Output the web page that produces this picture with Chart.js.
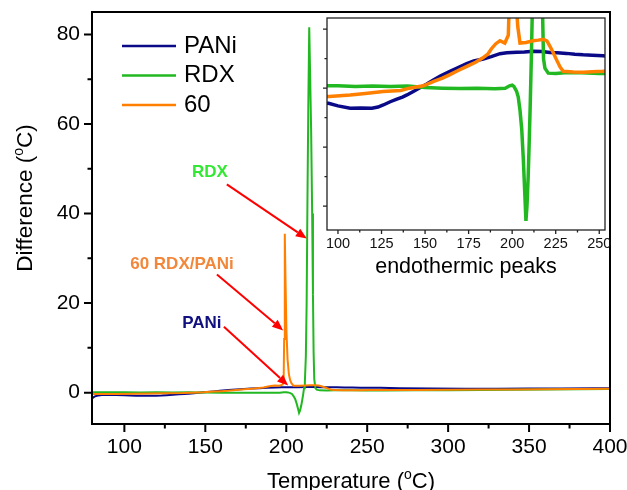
<!DOCTYPE html>
<html lang="en">
<head>
<meta charset="UTF-8">
<title>DSC curves: PANi, RDX and 60 RDX/PANi</title>
<script src="https://cdn.jsdelivr.net/npm/chart.js"></script>
<style>
  body { margin: 0; background: #fff; }
  #wrap { position: relative; width: 627px; height: 490px; }
  #mainChart { position: absolute; left: 0; top: 0; }
  #insetBox { position: absolute; left: 297px; top: 8px; width: 318px; height: 272px; }
</style>
</head>
<body>
<div id="wrap">
  <canvas id="mainChart" width="627" height="490"></canvas>
  <div id="insetBox"><canvas id="insetChart" width="318" height="272"></canvas></div>
</div>

<script>
  // temperature (°C) / difference (°C) for each sample
  const panT = [80, 81.5, 83, 86, 90, 94.6, 100, 107, 113, 119.5, 123, 126, 130, 133.8, 137, 139.6, 143, 147.3, 151, 154.8,
    159, 164.3, 169, 173.9, 178, 183.4, 188, 193, 197, 202.6, 207, 212.2, 217, 221.7, 226, 231.2, 236, 240.8, 246, 252.2,
    258, 270, 290, 310, 330, 350, 370, 390, 400]
  const panV = [-1.3, -0.9, -0.7, -0.55, -0.5, -0.51, -0.6, -0.68, -0.67, -0.68, -0.64, -0.57, -0.46, -0.37, -0.3, -0.23, -0.12, 0.02, 0.14, 0.28,
    0.42, 0.57, 0.7, 0.83, 0.92, 0.99, 1.07, 1.17, 1.2, 1.22, 1.23, 1.25, 1.24, 1.21, 1.2, 1.18, 1.15, 1.13, 1.12, 1.1,
    1.07, 1.0, 0.9, 0.85, 0.86, 0.9, 0.93, 0.97, 1.0]

  const rdxT = [80, 90, 100, 110, 120, 130, 140, 145, 150, 160, 170, 180, 190, 196, 198.5, 200, 201, 202.5, 203.5, 204.5,
    205.5, 206.4, 207.2, 207.9, 208.5, 209.2, 209.8, 210.4, 211, 211.5, 212.1, 212.6, 213.1, 213.6, 214.2, 214.8, 215.4, 216, 216.5, 216.9,
    217.3, 218, 218.8, 220.7, 225, 230, 240, 250, 260, 280, 300, 320, 340, 360, 380, 400]
  const rdxV = [0.1, 0.08, 0.08, 0.06, 0.07, 0.06, 0.07, 0.05, 0.02, 0.0, -0.01, 0.0, -0.02, 0.0, 0.08, 0.1, 0.06, -0.1, -0.3, -0.75,
    -1.4, -2.4, -3.5, -4.5, -4.0, -3.0, -1.8, -0.5, 1.0, 2.4, 8, 20, 43, 63, 81.6, 70, 58, 40, 22, 9,
    3.0, 1.0, 0.68, 0.51, 0.5, 0.52, 0.52, 0.5, 0.5, 0.52, 0.55, 0.62, 0.66, 0.7, 0.74, 0.8]

  const mixT = [80, 85, 95, 107, 117, 126, 136, 141, 149, 155, 160, 164, 169, 174, 179, 183, 186, 188, 190.5, 193,
    195.8, 197.8, 198.4, 198.7, 199.1, 199.5, 200.1, 200.8, 201.6, 202.4, 203.2, 204.5, 208, 212, 215, 218, 220, 221.7, 223.6, 225.5,
    227.5, 229.3, 235, 241, 246, 252, 260, 280, 300, 320, 340, 360, 380, 400]
  const mixV = [-0.3, -0.3, -0.28, -0.23, -0.17, -0.11, -0.08, 0.0, 0.08, 0.23, 0.34, 0.45, 0.6, 0.74, 0.88, 1.02, 1.15, 1.33, 1.5, 1.61,
    1.53, 1.8, 3, 12, 35.5, 26, 14, 7.5, 4.2, 2.8, 2.1, 1.53, 1.55, 1.61, 1.63, 1.66, 1.6, 1.42, 1.2, 0.96,
    0.72, 0.57, 0.55, 0.54, 0.56, 0.57, 0.6, 0.62, 0.65, 0.7, 0.72, 0.76, 0.8, 0.85]

  const seriesNames = ['PANi', 'RDX', '60']

  // axis ticks
  const xMajor = [100, 150, 200, 250, 300, 350, 400]
  const xMinor = [125, 175, 225, 275, 325, 375]
  const yMajor = [0, 20, 40, 60, 80]
  const yMinor = [10, 30, 50, 70]
  const insetXMajor = [100, 125, 150, 175, 200, 225, 250]
  const insetXMinor = [112.5, 137.5, 162.5, 187.5, 212.5, 237.5]
  const insetYMajor = [2, 0, -2, -4]
  const insetYMinor = [1, -1, -3]

  const FONT = '"Liberation Sans", Arial, Helvetica, sans-serif'
  const colors = ['#0a0a88', '#22b822', '#ff8000']

  // callouts: text, text colour, text centre, arrow from -> to (data units)
  const notes = [
    { text: 'RDX', color: '#33e833', at: [152.8, 49.2], from: [163.3, 46.5], to: [212.7, 34.4] },
    { text: '60 RDX/PANi', color: '#f2873a', at: [135.6, 28.6], from: [157.2, 26.4], to: [198.1, 13.9] },
    { text: 'PANi', color: '#101080', at: [147.9, 15.4], from: [161.5, 14.7], to: [201.2, 1.6] }
  ]

  function points(xs, ys) {
    return xs.map((x, i) => ({ x: x, y: ys[i] }))
  }

  function makeDatasets(width) {
    const sets = [[panT, panV], [rdxT, rdxV], [mixT, mixV]]
    return sets.map((s, i) => ({
      label: seriesNames[i],
      data: points(s[0], s[1]),
      borderColor: colors[i],
      borderWidth: width,
      showLine: true,
      pointRadius: 0,
      order: 3 - i,
      clip: 0
    }))
  }

  // fixed axis boxes, no extra room for label overhang
  function fixSize(prop, size) {
    return s => {
      s[prop] = size
      s.paddingLeft = 0
      s.paddingRight = 0
      s.paddingTop = 0
      s.paddingBottom = 0
    }
  }

  function drawTicks(ctx, scale, values, len, horizontal, edge) {
    values.forEach(v => {
      const p = scale.getPixelForValue(v)
      if (horizontal) { ctx.moveTo(p, edge); ctx.lineTo(p, edge + len) }
      else { ctx.moveTo(edge, p); ctx.lineTo(edge - len, p) }
    })
  }

  // axis title with a raised "o" for degrees
  function degTitle(ctx, cx, cy, pre, post, size, angle) {
    ctx.save()
    ctx.translate(cx, cy)
    ctx.rotate(angle)
    const big = size + 'px ' + FONT
    const small = Math.round(size * 0.62) + 'px ' + FONT
    ctx.font = big
    const w1 = ctx.measureText(pre).width
    const w3 = ctx.measureText(post).width
    ctx.font = small
    const w2 = ctx.measureText('o').width
    const x0 = -(w1 + w2 + w3) / 2
    ctx.fillStyle = '#000'
    ctx.textAlign = 'left'
    ctx.textBaseline = 'alphabetic'
    ctx.font = big
    ctx.fillText(pre, x0, 0)
    ctx.font = small
    ctx.fillText('o', x0 + w1, -size * 0.4)
    ctx.font = big
    ctx.fillText(post, x0 + w1 + w2, 0)
    ctx.restore()
  }

  function arrow(ctx, x1, y1, x2, y2) {
    const ang = Math.atan2(y2 - y1, x2 - x1)
    const head = 11, half = 4.5
    const bx = x2 - head * Math.cos(ang), by = y2 - head * Math.sin(ang)
    ctx.beginPath()
    ctx.moveTo(x1, y1)
    ctx.lineTo(bx, by)
    ctx.stroke()
    ctx.beginPath()
    ctx.moveTo(x2, y2)
    ctx.lineTo(bx + half * Math.sin(ang), by - half * Math.cos(ang))
    ctx.lineTo(bx - half * Math.sin(ang), by + half * Math.cos(ang))
    ctx.closePath()
    ctx.fill()
  }

  const mainDecor = {
    id: 'mainDecor',
    afterDraw(chart) {
      const { ctx, chartArea: a, scales: { x, y } } = chart
      ctx.save()
      ctx.strokeStyle = '#000'
      ctx.lineWidth = 2
      ctx.strokeRect(a.left, a.top, a.right - a.left, a.bottom - a.top)

      ctx.beginPath()
      drawTicks(ctx, x, xMajor, 8, true, a.bottom)
      drawTicks(ctx, x, xMinor, 4.5, true, a.bottom)
      drawTicks(ctx, y, yMajor, 8, false, a.left)
      drawTicks(ctx, y, yMinor, 4.5, false, a.left)
      ctx.stroke()

      degTitle(ctx, (a.left + a.right) / 2, 488, 'Temperature (', 'C)', 22, 0)
      degTitle(ctx, 31.5, 198, 'Difference (', 'C)', 22.5, -Math.PI / 2)

      // legend
      ctx.lineWidth = 2.5
      ctx.font = '24px ' + FONT
      ctx.textAlign = 'left'
      ctx.textBaseline = 'middle'
      seriesNames.forEach((name, i) => {
        const ly = 46 + i * 29.5
        ctx.strokeStyle = colors[i]
        ctx.beginPath()
        ctx.moveTo(122, ly)
        ctx.lineTo(176, ly)
        ctx.stroke()
        ctx.fillStyle = '#000'
        ctx.fillText(name, 184, ly)
      })

      // callouts
      ctx.font = 'bold 17px ' + FONT
      ctx.textAlign = 'center'
      notes.forEach(n => {
        ctx.fillStyle = n.color
        ctx.fillText(n.text, x.getPixelForValue(n.at[0]), y.getPixelForValue(n.at[1]))
        ctx.strokeStyle = '#ff0000'
        ctx.fillStyle = '#ff0000'
        ctx.lineWidth = 2
        arrow(ctx, x.getPixelForValue(n.from[0]), y.getPixelForValue(n.from[1]),
          x.getPixelForValue(n.to[0]), y.getPixelForValue(n.to[1]))
      })
      ctx.restore()
    }
  }

  const insetDecor = {
    id: 'insetDecor',
    beforeDatasetsDraw(chart) {
      const { ctx, chartArea: a } = chart
      ctx.save()
      ctx.fillStyle = '#fff'
      ctx.fillRect(a.left, a.top, a.right - a.left, a.bottom - a.top)
      ctx.restore()
    },
    afterDraw(chart) {
      const { ctx, chartArea: a, scales: { x, y } } = chart
      ctx.save()
      ctx.strokeStyle = '#222'
      ctx.lineWidth = 1.3
      ctx.strokeRect(a.left, a.top, a.right - a.left, a.bottom - a.top)
      ctx.beginPath()
      drawTicks(ctx, x, insetXMajor, 4, true, a.bottom)
      drawTicks(ctx, x, insetXMinor, 2.5, true, a.bottom)
      drawTicks(ctx, y, insetYMajor, 4, false, a.left)
      drawTicks(ctx, y, insetYMinor, 2.5, false, a.left)
      ctx.stroke()
      ctx.fillStyle = '#000'
      ctx.font = '21.5px ' + FONT
      ctx.textAlign = 'center'
      ctx.textBaseline = 'alphabetic'
      ctx.fillText('endothermic peaks', (a.left + a.right) / 2, 265)
      ctx.restore()
    }
  }

  new Chart(document.getElementById('mainChart'), {
    type: 'scatter',
    data: { datasets: makeDatasets(2) },
    options: {
      responsive: false,
      animation: false,
      layout: { padding: { left: 0, top: 12, right: 17, bottom: 0 }, autoPadding: false },
      plugins: { legend: { display: false }, tooltip: { enabled: false } },
      scales: {
        x: {
          type: 'linear', min: 80, max: 400,
          grid: { display: false, drawTicks: false }, border: { display: false },
          afterBuildTicks: s => { s.ticks = xMajor.map(v => ({ value: v })) },
          afterFit: fixSize('height', 66),
          ticks: { color: '#000', font: { family: FONT, size: 21 }, padding: 11, maxRotation: 0, autoSkip: false }
        },
        y: {
          type: 'linear', min: -7, max: 85,
          grid: { display: false, drawTicks: false }, border: { display: false },
          afterBuildTicks: s => { s.ticks = yMajor.map(v => ({ value: v })) },
          afterFit: fixSize('width', 92),
          ticks: { color: '#000', font: { family: FONT, size: 21 }, padding: 12, autoSkip: false }
        }
      }
    },
    plugins: [mainDecor]
  })

  new Chart(document.getElementById('insetChart'), {
    type: 'scatter',
    data: { datasets: makeDatasets(3.5) },
    options: {
      responsive: false,
      animation: false,
      layout: { padding: { left: 0, top: 10, right: 10, bottom: 0 }, autoPadding: false },
      plugins: { legend: { display: false }, tooltip: { enabled: false } },
      scales: {
        x: {
          type: 'linear', min: 93.7, max: 253.3,
          grid: { display: false, drawTicks: false }, border: { display: false },
          afterBuildTicks: s => { s.ticks = insetXMajor.map(v => ({ value: v })) },
          afterFit: fixSize('height', 50),
          ticks: { color: '#111', font: { family: FONT, size: 14.5 }, padding: 5, maxRotation: 0, autoSkip: false }
        },
        y: {
          type: 'linear', min: -4.81, max: 2.38,
          grid: { display: false, drawTicks: false }, border: { display: false },
          afterBuildTicks: s => { s.ticks = insetYMajor.map(v => ({ value: v })) },
          afterFit: fixSize('width', 30),
          ticks: { display: false }
        }
      }
    },
    plugins: [insetDecor]
  })
</script>
</body>
</html>
